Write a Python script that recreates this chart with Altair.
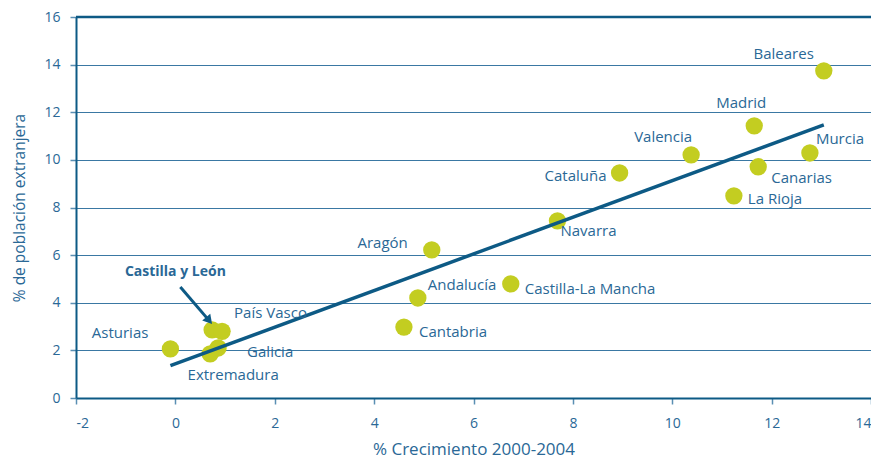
import altair as alt
import pandas as pd

# Data
regions = ["Asturias", "Castilla y León", "País Vasco", "Galicia", "Extremadura",
           "Cantabria", "Andalucía", "Aragón", "Castilla-La Mancha", "Navarra",
           "Cataluña", "Valencia", "Madrid", "Canarias", "La Rioja", "Murcia", "Baleares"]
growth = [-0.1, 0.74, 0.94, 0.86, 0.70, 4.6, 4.88, 5.16, 6.75, 7.69,
          8.94, 10.38, 11.65, 11.73, 11.24, 12.77, 13.05]
foreign = [2.06, 2.86, 2.80, 2.10, 1.85, 2.98, 4.20, 6.22, 4.79, 7.44,
           9.45, 10.21, 11.43, 9.71, 8.49, 10.29, 13.74]

# label placement (pixel offsets from point, alignment)
label_text = ["Asturias", "", "País Vasco", "Galicia", "Extremadura",
              "Cantabria", "Andalucía", "Aragón", "Castilla-La Mancha", "Navarra",
              "Cataluña", "Valencia", "Madrid", "Canarias", "La Rioja", "Murcia", "Baleares"]
label_dx = [-22, 0, 12, 29, 23, 15, 10, -24, 14, 3, -13, 1, -13, 13, 14, 6, -10]
label_dy = [-16, 0, -18, 4, 21, 5, -13, -7, 5, 10, 3, -18, -23, 11, 3, -14, -17]
label_align = ["right", "left", "left", "left", "center", "left", "left", "right", "left",
               "left", "right", "right", "center", "left", "left", "left", "right"]

# trend line end points
trend_x = [-0.1, 13.05]
trend_y = [1.36, 11.47]

# Castilla y León annotation
arrow_x = [0.10, 0.68]
arrow_y = [4.66, 3.25]
callout_text = ["Castilla y León"]
callout_x = [0.0]
callout_y = [5.29]

x_ticks = [-2, 0, 2, 4, 6, 8, 10, 12, 14]
y_ticks = [0, 2, 4, 6, 8, 10, 12, 14, 16]

W, H = 795, 381
XMIN, XMAX, YMIN, YMAX = -2, 14, 0, 16

LABEL_COLOR = "#2a6896"
LINE_COLOR = "#0d5a85"
POINT_COLOR = "#c3cd21"
FONT = "Open Sans"

df = pd.DataFrame({
    "region": regions, "x": growth, "y": foreign,
    "label": label_text, "dx": label_dx, "dy": label_dy, "align": label_align,
})
df["lx"] = df["x"] + df["dx"] * (XMAX - XMIN) / W
df["ly"] = df["y"] - df["dy"] * (YMAX - YMIN) / H

xs = alt.Scale(domain=[XMIN, XMAX], nice=False, zero=False)
ys = alt.Scale(domain=[YMIN, YMAX], nice=False, zero=False)

X = alt.X("x:Q", scale=xs, axis=alt.Axis(
    values=x_ticks, title="% Crecimiento 2000-2004", grid=False,
    labelExpr="replace(datum.label, '−', '-')",
    labelFontSize=14, labelColor=LABEL_COLOR, labelFont=FONT, labelPadding=12,
    labelFlush=True,
    tickColor="#5a8fb3", tickSize=6, tickWidth=1.5,
    domainColor=LINE_COLOR, domainWidth=2,
    titleFontSize=17, titleColor=LABEL_COLOR, titleFont=FONT, titleFontWeight="normal",
    titlePadding=11))
Y = alt.Y("y:Q", scale=ys, axis=alt.Axis(
    values=y_ticks, title="% de población extranjera", grid=True,
    gridColor="#3a78a3", gridWidth=1.2,
    labelFontSize=14, labelColor=LABEL_COLOR, labelFont=FONT, labelPadding=10,
    tickColor="#5a8fb3", tickSize=6, tickWidth=1.5,
    domainColor=LINE_COLOR, domainWidth=2,
    titleFontSize=15.5, titleColor=LABEL_COLOR, titleFont=FONT, titleFontWeight="normal",
    titlePadding=16))

base = alt.Chart(df)

top_rule = alt.Chart(pd.DataFrame({"y": [YMAX]})).mark_rule(
    color=LINE_COLOR, strokeWidth=2.5).encode(y=alt.Y("y:Q", scale=ys))

points = base.mark_circle(size=300, opacity=1, color=POINT_COLOR).encode(x=X, y=Y)

trend = alt.Chart(pd.DataFrame({"x": trend_x, "y": trend_y})).mark_line(
    color=LINE_COLOR, strokeWidth=3.5).encode(
    x=alt.X("x:Q", scale=xs), y=alt.Y("y:Q", scale=ys))

label_layers = []
for a in ["left", "center", "right"]:
    label_layers.append(
        base.transform_filter(alt.datum.align == a).transform_filter(alt.datum.label != "")
        .mark_text(align=a, baseline="middle", fontSize=15, font=FONT, color=LABEL_COLOR)
        .encode(x=alt.X("lx:Q", scale=xs), y=alt.Y("ly:Q", scale=ys), text="label:N"))

arrow_df = pd.DataFrame({"x": [arrow_x[0]], "y": [arrow_y[0]], "x2": [arrow_x[1]], "y2": [arrow_y[1]]})
arrow_line = alt.Chart(arrow_df).mark_rule(color=LINE_COLOR, strokeWidth=3).encode(
    x=alt.X("x:Q", scale=xs), y=alt.Y("y:Q", scale=ys), x2="x2:Q", y2="y2:Q")
arrow_head = alt.Chart(pd.DataFrame({"x": [arrow_x[1]], "y": [arrow_y[1]]})).mark_point(
    shape="triangle-up", angle=140, size=110, filled=True, opacity=1, color=LINE_COLOR).encode(
    x=alt.X("x:Q", scale=xs), y=alt.Y("y:Q", scale=ys))
callout = alt.Chart(pd.DataFrame({"x": callout_x, "y": callout_y, "t": callout_text})).mark_text(
    align="center", baseline="middle", fontSize=14, fontWeight="bold", font=FONT,
    color=LABEL_COLOR).encode(x=alt.X("x:Q", scale=xs), y=alt.Y("y:Q", scale=ys), text="t:N")

chart = alt.layer(points, trend, top_rule, *label_layers, arrow_line, arrow_head, callout).properties(
    width=W, height=H,
    autosize=alt.AutoSizeParams(type="none"),
    padding={"left": 68, "top": 9, "right": 0, "bottom": 64},
).configure_view(stroke="#7fa6c2", strokeWidth=2).configure(background="white")

chart.save("out.html", embed_options={"renderer": "svg", "actions": False})
